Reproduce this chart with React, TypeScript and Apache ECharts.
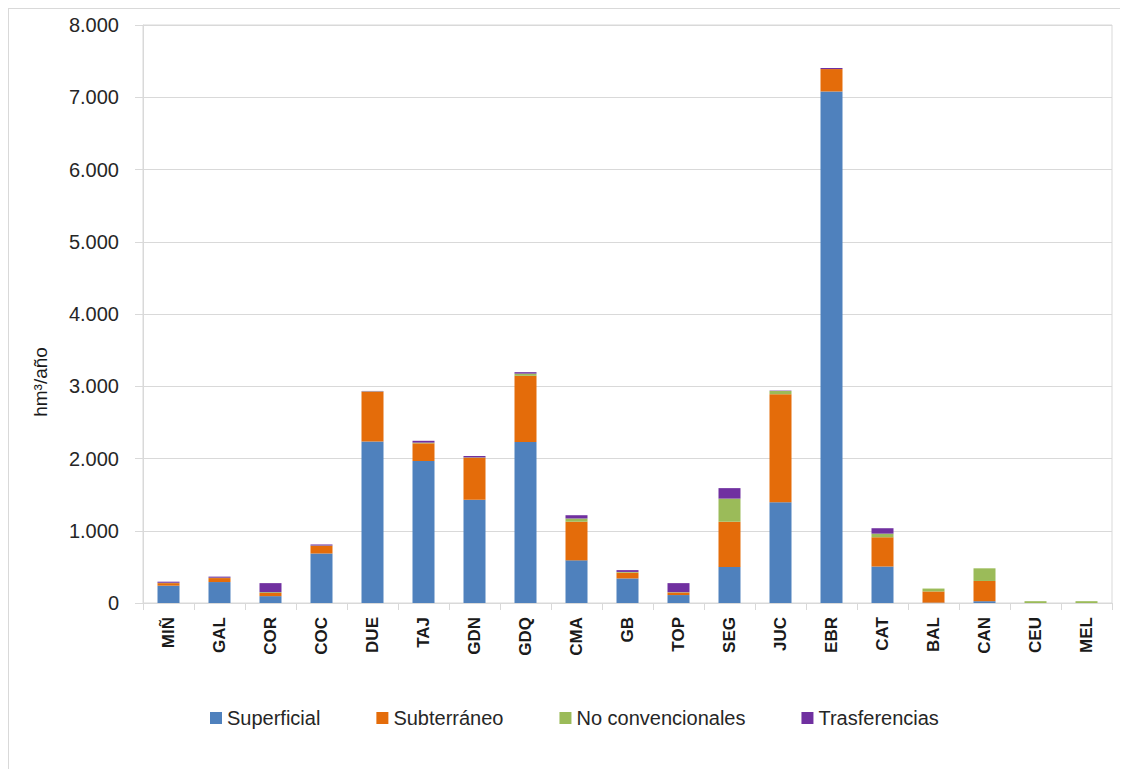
import React, { useEffect, useRef } from "react";
import * as echarts from "echarts";

const categories = ["MIÑ", "GAL", "COR", "COC", "DUE", "TAJ", "GDN", "GDQ", "CMA", "GB", "TOP", "SEG", "JUC", "EBR", "CAT", "BAL", "CAN", "CEU", "MEL"];
const superficial = [240, 290, 95, 685, 2235, 1965, 1430, 2230, 590, 340, 110, 500, 1395, 7080, 505, 5, 25, 0, 0];
const subterraneo = [35, 55, 45, 105, 690, 245, 580, 915, 535, 80, 35, 625, 1495, 310, 405, 155, 280, 0, 0];
const noConvencionales = [5, 5, 10, 5, 5, 10, 5, 30, 45, 10, 5, 320, 45, 0, 50, 40, 175, 25, 25];
const trasferencias = [15, 15, 125, 15, 5, 25, 20, 20, 45, 25, 125, 145, 5, 15, 75, 0, 0, 0, 0];
const seriesNames = ["Superficial", "Subterráneo", "No convencionales", "Trasferencias"];
const seriesColors = ["#4F81BD", "#E46C0A", "#9BBB59", "#7030A0"];
const yAxisTitle = "hm³/año";

function fmt(v: number): string {
  const s = Math.round(v).toString();
  return s.replace(/\B(?=(\d{3})+(?!\d))/g, ".");
}

export default function App() {
  const ref = useRef<HTMLDivElement>(null);
  useEffect(() => {
    if (!ref.current) return;
    const chart = echarts.init(ref.current, undefined, { renderer: "svg" });
    const data = [superficial, subterraneo, noConvencionales, trasferencias];
    chart.setOption({
      animation: false,
      textStyle: { fontFamily: "Liberation Sans" },
      grid: {
        left: 134,
        right: 16,
        top: 16,
        bottom: 166,
        show: true,
        borderColor: "#d9d9d9",
        borderWidth: 1,
      },
      legend: {
        bottom: 36,
        left: 196,
        itemWidth: 12,
        itemHeight: 12,
        itemGap: 56,
        icon: "rect",
        textStyle: { fontSize: 20, color: "#262626", fontFamily: "Liberation Sans" },
        data: seriesNames,
      },
      xAxis: {
        type: "category",
        data: categories,
        axisLine: { lineStyle: { color: "#d9d9d9" } },
        axisTick: { show: true, length: 7, lineStyle: { color: "#d9d9d9" } },
        axisLabel: {
          rotate: 90,
          margin: 14,
          fontSize: 17,
          fontWeight: "bold",
          color: "#1a1a1a",
          interval: 0,
        },
      },
      yAxis: {
        type: "value",
        min: 0,
        max: 8000,
        interval: 1000,
        axisLine: { show: true, lineStyle: { color: "#d9d9d9" } },
        axisTick: { show: true, length: 8, lineStyle: { color: "#d9d9d9" } },
        splitLine: { lineStyle: { color: "#d9d9d9" } },
        axisLabel: {
          fontSize: 20,
          color: "#262626",
          margin: 24,
          formatter: (v: number) => fmt(v),
        },
      },
      graphic: [
        {
          type: "text",
          x: 31,
          y: 373,
          rotation: Math.PI / 2,
          style: {
            text: yAxisTitle,
            fontSize: 19,
            fill: "#1a1a1a",
            align: "center",
            verticalAlign: "middle",
            fontFamily: "Liberation Sans",
          },
        },
      ],
      series: seriesNames.map((name, i) => ({
        name,
        type: "bar",
        stack: "total",
        barWidth: 22,
        data: data[i],
        itemStyle: { color: seriesColors[i] },
      })),
    });
    return () => chart.dispose();
  }, []);
  return (
    <div
      style={{
        width: 1120,
        height: 761,
        boxSizing: "border-box",
        borderTop: "1px solid #d9d9d9",
        borderLeft: "1px solid #d9d9d9",
      }}
    >
      <div ref={ref} style={{ width: 1119, height: 760 }} />
    </div>
  );
}
